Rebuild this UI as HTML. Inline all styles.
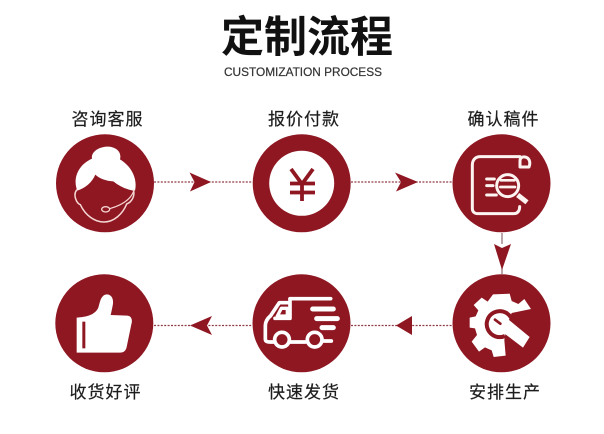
<!DOCTYPE html>
<html lang="zh">
<head>
<meta charset="utf-8">
<title>定制流程</title>
<style>
html,body{margin:0;padding:0;background:#fff}
svg{display:block}
text{font-family:"Liberation Sans","Noto Sans CJK SC",sans-serif;fill:#1d1d1d}
.l{font-size:17px;letter-spacing:1px;text-anchor:middle;stroke:#1d1d1d;stroke-width:.2px}
.d{stroke:#8f3b46;stroke-width:1.300;stroke-dasharray:2 1.400;fill:none}
.a{fill:#8e1722}
.c{fill:#8e1722}
</style>
</head>
<body>
<svg width="604" height="434" viewBox="0 0 604 434" xmlns="http://www.w3.org/2000/svg">
<rect width="604" height="434" fill="#fff"/>
<text x="307" y="52" font-size="43" font-weight="700" text-anchor="middle" style="fill:#111">定制流程</text>
<text x="303" y="76" font-size="12" text-anchor="middle" style="fill:#333;stroke:#333;stroke-width:.2px" textLength="158" lengthAdjust="spacingAndGlyphs">CUSTOMIZATION PROCESS</text>

<text class="l" x="107.500" y="125">咨询客服</text>
<text class="l" x="304" y="125">报价付款</text>
<text class="l" x="503.500" y="125">确认稿件</text>
<text class="l" x="105.500" y="398">收货好评</text>
<text class="l" x="304" y="398">快速发货</text>
<text class="l" x="505" y="398">安排生产</text>

<!-- connectors -->
<path class="d" d="M154 182H252M351 182H452M154 325.500H252M351 325.500H452"/>
<path d="M502 233V244M502 262V274" stroke="#8f6a70" stroke-width="1.200" fill="none"/>
<path class="a" d="M189.500 172.500L211 182L190 191.500L194.500 182Z"/>
<path class="a" d="M395 172.500L418 182L396 191.500L401 182Z"/>
<path class="a" d="M494 244L502 248L511 244L502 270Z"/>
<path class="a" d="M412 316V335L396 325.500Z"/>
<path class="a" d="M212 316L190 325.500L212 335L207 325.500Z"/>

<circle class="c" cx="105" cy="183.300" r="49"/>
<circle class="c" cx="301.700" cy="183.300" r="49"/>
<circle class="c" cx="501.500" cy="183.300" r="49"/>
<circle class="c" cx="104.300" cy="323.300" r="49"/>
<circle class="c" cx="301.500" cy="323.300" r="49"/>
<circle class="c" cx="501.500" cy="323.300" r="49"/>

<!-- agent -->
<g transform="translate(70 140) scale(.33333)">
<path fill="#fff" d="M22 152C8 118 22 76 66 56C62 36 88 20 112 20C138 20 156 36 150 58C180 76 204 112 195 152C172 150 150 140 130 124C108 124 86 114 76 104C66 128 46 144 22 152Z"/>
<path fill="none" stroke="#f6d8d4" stroke-width="4.500" stroke-linecap="round" d="M20 150C8 165 20 190 31 194C46 226 74 246 102 246C132 246 158 222 170 192C186 186 196 166 190 150"/>
<path fill="none" stroke="#f6d8d4" stroke-width="3.500" stroke-linecap="round" d="M190 156C180 180 154 196 119 206"/>
<ellipse cx="107" cy="208" rx="12" ry="8" fill="none" stroke="#f6d8d4" stroke-width="4"/>
</g>

<!-- yen -->
<circle cx="301.700" cy="183.300" r="32.500" fill="#fff"/>
<path fill="none" stroke="#8e1722" stroke-width="3.800" d="M291 169L302 184L313 169M290 183.500H315M290 192.500H315M302 184V201"/>

<!-- document -->
<g transform="translate(465 145) scale(.33333)" fill="none" stroke="#fdf3f0" stroke-linecap="round" stroke-linejoin="round">
<path stroke-width="9" d="M165 35H46C30 35 22 46 22 60V190C22 200 28 206 38 206H146C158 206 164 198 164 185"/>
<path stroke-width="9" d="M165 66V48C165 38 172 35 180 36C192 38 198 50 192 66H165"/>
<path stroke-width="9" d="M65 102H88M65 122H84M65 150H94"/>
<circle cx="128" cy="122" r="33" stroke-width="9"/>
<path stroke-width="8" d="M108 106H148M106 126H150"/>
<path stroke-width="15" stroke-linecap="butt" d="M158 150L186 172"/>
</g>

<!-- gear with wrench -->
<g transform="translate(465 285) scale(.33333)">
<path fill="#fff" d="M84 28L134 26L140 48L160 57L178 42L198 72L140 84L126 120L118 165L122 212L86 216L80 196L60 187L42 200L20 170L36 150L30 130L14 128V98L32 94L40 76L26 60L50 38L68 50Z"/>
<path fill="none" stroke="#8e1722" stroke-width="12" d="M138 98A39 39 0 1 0 120 153"/>
<circle cx="104" cy="118" r="29" fill="#fff"/>
<path fill="#fff" d="M126 100L194 156L174 188L106 136Z"/>
<path fill="none" stroke="#8e1722" stroke-width="8" stroke-linecap="round" d="M90 104L106 116"/>
</g>

<!-- truck -->
<g transform="translate(240 265) scale(.33333)" fill="none" stroke="#fff" stroke-linecap="round" stroke-linejoin="round">
<path stroke-width="11" d="M150 101H272"/>
<path stroke-width="11" d="M150 103V160H105M150 113H118L92 152C80 162 76 172 76 182V222C76 228 80 231 90 231H100M150 231H196M252 228H274"/>
<path stroke-width="10" d="M112 153L124 130H142V153Z"/>
<path stroke-width="15" d="M218 132H280M230 161H292M246 188H280"/>
<circle cx="126" cy="224" r="22" stroke-width="11" fill="#8e1722"/>
<circle cx="224" cy="224" r="22" stroke-width="11" fill="#8e1722"/>
</g>

<!-- thumb -->
<g transform="translate(40 265) scale(.33333)">
<path fill="#fff" d="M110 158C140 156 165 150 175 128C180 112 182 90 200 88C216 88 222 104 218 122C216 132 214 142 212 150L262 152C275 153 278 166 274 178L260 246C258 256 252 263 240 263H110Z"/>
<rect x="127" y="170" width="9" height="80" fill="#8e1722"/>
</g>
</svg>
</body>
</html>
